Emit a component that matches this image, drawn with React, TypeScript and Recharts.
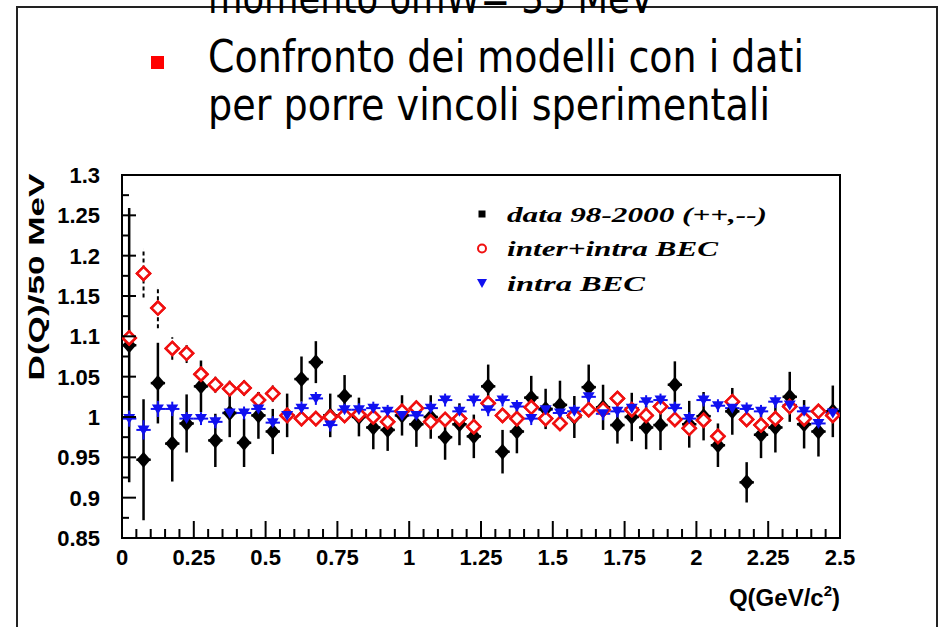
import React from "react";
import {
  ScatterChart,
  Scatter,
  XAxis,
  YAxis,
  ErrorBar,
  ReferenceArea,
  Legend,
} from "recharts";

// bin centres (GeV/c^2), 50 MeV bins
const qBins = [
  0.025, 0.075, 0.125, 0.175, 0.225, 0.275, 0.325, 0.375, 0.425, 0.475,
  0.525, 0.575, 0.625, 0.675, 0.725, 0.775, 0.825, 0.875, 0.925, 0.975,
  1.025, 1.075, 1.125, 1.175, 1.225, 1.275, 1.325, 1.375, 1.425, 1.475,
  1.525, 1.575, 1.625, 1.675, 1.725, 1.775, 1.825, 1.875, 1.925, 1.975,
  2.025, 2.075, 2.125, 2.175, 2.225, 2.275, 2.325, 2.375, 2.425, 2.475,
];
const halfBin = 0.025;

// data 98-2000 (++,--)
const dataValues = [
  1.089, 0.947, 1.042, 0.967, 0.992, 1.038, 0.971, 1.005, 0.968, 1.002,
  0.982, 1.002, 1.047, 1.068, 1.002, 1.026, 1.0, 0.987, 0.984, 1.002,
  0.991, 1.0, 0.975, 0.991, 0.976, 1.038, 0.957, 0.982, 1.024, 1.01,
  1.015, 1.0, 1.037, 1.012, 0.99, 1.0, 0.987, 0.99, 1.04, 0.991,
  1.001, 0.965, 1.007, 0.919, 0.978, 0.987, 1.025, 0.991, 0.982, 1.007,
];
const dataErrors = [
  0.17, 0.075, 0.05, 0.047, 0.036, 0.032, 0.033, 0.03, 0.03, 0.029,
  0.028, 0.027, 0.028, 0.026, 0.027, 0.026, 0.024, 0.027, 0.026, 0.025,
  0.028, 0.027, 0.028, 0.026, 0.027, 0.027, 0.027, 0.027, 0.027, 0.025,
  0.03, 0.026, 0.028, 0.028, 0.023, 0.03, 0.027, 0.031, 0.029, 0.029,
  0.03, 0.027, 0.029, 0.025, 0.029, 0.031, 0.031, 0.03, 0.031, 0.032,
];

// inter+intra BEC
const interIntraValues = [
  1.098, 1.178, 1.135, 1.085, 1.079, 1.053, 1.04, 1.035, 1.036, 1.021,
  1.029, 1.002, 0.998, 0.998, 1.0, 1.002, 1.003, 1.0, 0.994, 1.007,
  1.011, 0.994, 0.997, 0.998, 0.988, 1.017, 1.002, 0.998, 1.012, 0.998,
  0.992, 1.002, 1.009, 1.009, 1.023, 1.009, 1.002, 1.013, 0.997, 0.986,
  0.996, 0.976, 1.019, 0.997, 0.99, 0.998, 1.013, 0.998, 1.007, 1.002,
];
const interIntraErrors = [
  0.012, 0.03, 0.025, 0.014, 0.012, 0.016, 0.01, 0.01, 0.01, 0.01,
  0.01, 0.009, 0.008, 0.008, 0.008, 0.008, 0.008, 0.008, 0.008, 0.008,
  0.008, 0.008, 0.008, 0.008, 0.008, 0.008, 0.008, 0.008, 0.008, 0.008,
  0.008, 0.008, 0.008, 0.008, 0.008, 0.008, 0.008, 0.008, 0.008, 0.008,
  0.008, 0.008, 0.008, 0.008, 0.008, 0.008, 0.008, 0.008, 0.008, 0.008,
];

// intra BEC
const intraValues = [
  0.998, 0.984, 1.01, 1.01, 0.998, 0.998, 0.994, 1.005, 1.005, 1.01,
  0.993, 1.002, 1.011, 1.023, 0.99, 1.009, 1.009, 1.011, 1.007, 1.002,
  1.002, 1.011, 1.021, 1.007, 1.021, 1.009, 1.021, 1.013, 0.998, 1.009,
  1.005, 1.007, 1.025, 1.004, 1.007, 1.011, 1.019, 1.021, 1.011, 0.998,
  1.021, 1.014, 1.011, 1.01, 1.007, 1.019, 1.015, 1.007, 0.992, 1.005,
];
const intraErrors = [
  0.01, 0.012, 0.01, 0.009, 0.008, 0.008, 0.008, 0.008, 0.008, 0.008,
  0.008, 0.008, 0.008, 0.008, 0.008, 0.008, 0.008, 0.008, 0.008, 0.008,
  0.008, 0.008, 0.008, 0.008, 0.008, 0.008, 0.008, 0.008, 0.008, 0.008,
  0.008, 0.008, 0.008, 0.008, 0.008, 0.008, 0.008, 0.008, 0.008, 0.008,
  0.008, 0.008, 0.008, 0.008, 0.008, 0.008, 0.008, 0.008, 0.008, 0.008,
];

const seriesNames = ["data 98-2000 (++,--)", "inter+intra BEC", "intra BEC"];

const xTickLabels = ["0", "0.25", "0.5", "0.75", "1", "1.25", "1.5", "1.75", "2", "2.25", "2.5"];
const yTickLabels = ["0.85", "0.9", "0.95", "1", "1.05", "1.1", "1.15", "1.2", "1.25", "1.3"];

// tick positions: minor every 0.05 on x, every 0.025 on y
const xTicks: number[] = [];
for (let i = 0; i <= 50; i++) xTicks.push(+(i * 0.05).toFixed(3));
const yTicks: number[] = [];
for (let i = 0; i <= 18; i++) yTicks.push(+(0.85 + i * 0.025).toFixed(3));

const RED = "#f01010";
const BLUE = "#1010f0";
const axisFont = "'Liberation Sans', Arial, Helvetica, sans-serif";
const slideFont = "'DejaVu Sans', 'Open Sans', sans-serif";

const build = (vals: number[], errs: number[]) =>
  qBins.map((q, i) => ({ q, v: vals[i], ex: halfBin, ey: errs[i] }));

const dataPts = build(dataValues, dataErrors);
const interIntraPts = build(interIntraValues, interIntraErrors);
const intraPts = build(intraValues, intraErrors);

const BlackDiamond = (p: any) => {
  const { cx, cy } = p;
  return <polygon points={`${cx},${cy - 8} ${cx + 7},${cy} ${cx},${cy + 8} ${cx - 7},${cy}`} fill="#000" />;
};
const RedDiamond = (p: any) => {
  const { cx, cy } = p;
  return (
    <polygon
      points={`${cx},${cy - 6.5} ${cx + 6.5},${cy} ${cx},${cy + 6.5} ${cx - 6.5},${cy}`}
      fill="#fff"
      stroke={RED}
      strokeWidth={2.5}
    />
  );
};
const BlueTriangle = (p: any) => {
  const { cx, cy } = p;
  return <polygon points={`${cx - 6},${cy - 4.5} ${cx + 6},${cy - 4.5} ${cx},${cy + 5.5}`} fill={BLUE} />;
};

const XTick = (props: any) => {
  const { x, y, payload } = props;
  const v = payload.value;
  const major = Math.round(v * 100) % 25 === 0;
  return (
    <g>
      <line x1={x} x2={x} y1={y} y2={y - (major ? 17 : 9)} stroke="#000" strokeWidth={2} />
      {major && (
        <text x={x} y={y + 27} textAnchor="middle" fontFamily={axisFont} fontWeight="bold" fontSize={22} fill="#000">
          {xTickLabels[Math.round(v / 0.25)]}
        </text>
      )}
    </g>
  );
};

const YTick = (props: any) => {
  const { x, y, payload } = props;
  const v = payload.value;
  const idx = Math.round((v - 0.85) / 0.025);
  const major = idx % 2 === 0;
  return (
    <g>
      <line x1={x} x2={x + (major ? 14 : 7)} y1={y} y2={y} stroke="#000" strokeWidth={2} />
      {major && (
        <text x={x - 22} y={y + 8} textAnchor="end" fontFamily={axisFont} fontWeight="bold" fontSize={22} fill="#000">
          {yTickLabels[idx / 2]}
        </text>
      )}
    </g>
  );
};

const legendMarkers = [
  <rect key="a" x={-3.5} y={-3.5} width={7} height={7} fill="#000" />,
  <circle key="b" cx={0} cy={0} r={4} fill="none" stroke={RED} strokeWidth={2} />,
  <polygon key="c" points="-5,-4 5,-4 0,5" fill={BLUE} />,
];
const legendWidths = [260, 211, 138];

const renderLegend = () => (
  <svg width={320} height={105}>
    {seriesNames.map((name, i) => {
      const cy = 16 + i * 34.5;
      return (
        <g key={name}>
          <g transform={`translate(12,${cy})`}>{legendMarkers[i]}</g>
          <text
            x={37}
            y={cy + 7.5}
            fontFamily="'Liberation Serif', 'Times New Roman', serif"
            fontWeight="bold"
            fontStyle="italic"
            fontSize={22}
            textLength={legendWidths[i]}
            lengthAdjust="spacingAndGlyphs"
            fill="#000"
          >
            {name}
          </text>
        </g>
      );
    })}
  </svg>
);

const YTitle = (props: any) => {
  const { viewBox } = props;
  const x = viewBox.x + viewBox.width - 78;
  const y = 277;
  return (
    <text
      x={x}
      y={y}
      transform={`rotate(-90, ${x}, ${y})`}
      textAnchor="middle"
      fontFamily={axisFont}
      fontWeight="bold"
      fontSize={22}
      textLength={207}
      lengthAdjust="spacingAndGlyphs"
      fill="#000"
    >
      D(Q)/50 MeV
    </text>
  );
};

const XTitle = (props: any) => {
  const { viewBox } = props;
  return (
    <text
      x={viewBox.x + viewBox.width}
      y={viewBox.y + 68}
      textAnchor="end"
      fontFamily={axisFont}
      fontWeight="bold"
      fontSize={24}
      fill="#000"
    >
      Q(GeV/c
      <tspan fontSize={15} dy={-10}>2</tspan>
      <tspan dy={10}>)</tspan>
    </text>
  );
};

function Slide() {
  return (
    <svg width={945} height={627} style={{ position: "absolute", left: 0, top: 0 }}>
      <rect x={17} y={7} width={920} height={640} fill="none" stroke="#222" strokeWidth={2} />
      <text x={208} y={13} fontFamily={slideFont} fontSize={44} textLength={446} lengthAdjust="spacingAndGlyphs" fill="#000">
        momento δmW= 35 MeV
      </text>
      <rect x={151} y={56} width={13} height={13} fill="#ff0000" />
      <text x={208} y={72} fontFamily={slideFont} fontSize={44} textLength={596} lengthAdjust="spacingAndGlyphs" fill="#000">
        Confronto dei modelli con i dati
      </text>
      <text x={208} y={120} fontFamily={slideFont} fontSize={44} textLength={562} lengthAdjust="spacingAndGlyphs" fill="#000">
        per porre vincoli sperimentali
      </text>
    </svg>
  );
}

export default function App() {
  return (
    <div style={{ position: "absolute", left: 0, top: 0, width: 945, height: 627, background: "#fff", overflow: "hidden" }}>
      <Slide />
      <div style={{ position: "absolute", left: 0, top: 0 }}>
        <ScatterChart width={945} height={627} margin={{ top: 175, right: 105, bottom: 29, left: 62 }}>
          <XAxis
            type="number"
            dataKey="q"
            domain={[0, 2.5]}
            allowDataOverflow
            ticks={xTicks}
            interval={0}
            tickSize={0}
            tickMargin={0}
            tickLine={false}
            height={60}
            axisLine={{ stroke: "#000", strokeWidth: 2 }}
            tick={(p: any) => <XTick {...p} />}
            label={{ content: (p: any) => <XTitle {...p} /> }}
          />
          <YAxis
            type="number"
            dataKey="v"
            domain={[0.85, 1.3]}
            allowDataOverflow
            ticks={yTicks}
            interval={0}
            tickSize={0}
            tickMargin={0}
            tickLine={false}
            width={60}
            axisLine={{ stroke: "#000", strokeWidth: 2 }}
            tick={(p: any) => <YTick {...p} />}
            label={{ content: (p: any) => <YTitle {...p} /> }}
          />
          <ReferenceArea x1={0} x2={2.5} y1={0.85} y2={1.3} fill="none" stroke="#000" strokeWidth={2} ifOverflow="visible" />
          <Legend
            layout="vertical"
            align="center"
            verticalAlign="middle"
            content={renderLegend}
            wrapperStyle={{ left: 470, top: 198, width: 320, height: 105 }}
          />
          <Scatter name={seriesNames[0]} data={dataPts} shape={BlackDiamond} isAnimationActive={false}>
            <ErrorBar dataKey="ey" direction="y" width={0} stroke="#000" strokeWidth={2.5} isAnimationActive={false} />
            <ErrorBar dataKey="ex" direction="x" width={0} stroke="#000" strokeWidth={2.5} isAnimationActive={false} />
          </Scatter>
          <Scatter name={seriesNames[1]} data={interIntraPts} shape={RedDiamond} isAnimationActive={false}>
            <ErrorBar dataKey="ey" direction="y" width={0} stroke="#000" strokeWidth={2} strokeDasharray="4 3" isAnimationActive={false} />
            <ErrorBar dataKey="ex" direction="x" width={0} stroke="#000" strokeWidth={2} isAnimationActive={false} />
          </Scatter>
          {/* markers redrawn on top so the error bars don't cross the open diamonds */}
          <Scatter name="inter+intra markers" data={interIntraPts} shape={RedDiamond} legendType="none" isAnimationActive={false} />
          <Scatter name={seriesNames[2]} data={intraPts} shape={BlueTriangle} isAnimationActive={false}>
            <ErrorBar dataKey="ey" direction="y" width={0} stroke={BLUE} strokeWidth={2} isAnimationActive={false} />
            <ErrorBar dataKey="ex" direction="x" width={0} stroke={BLUE} strokeWidth={2} isAnimationActive={false} />
          </Scatter>
        </ScatterChart>
      </div>
    </div>
  );
}
